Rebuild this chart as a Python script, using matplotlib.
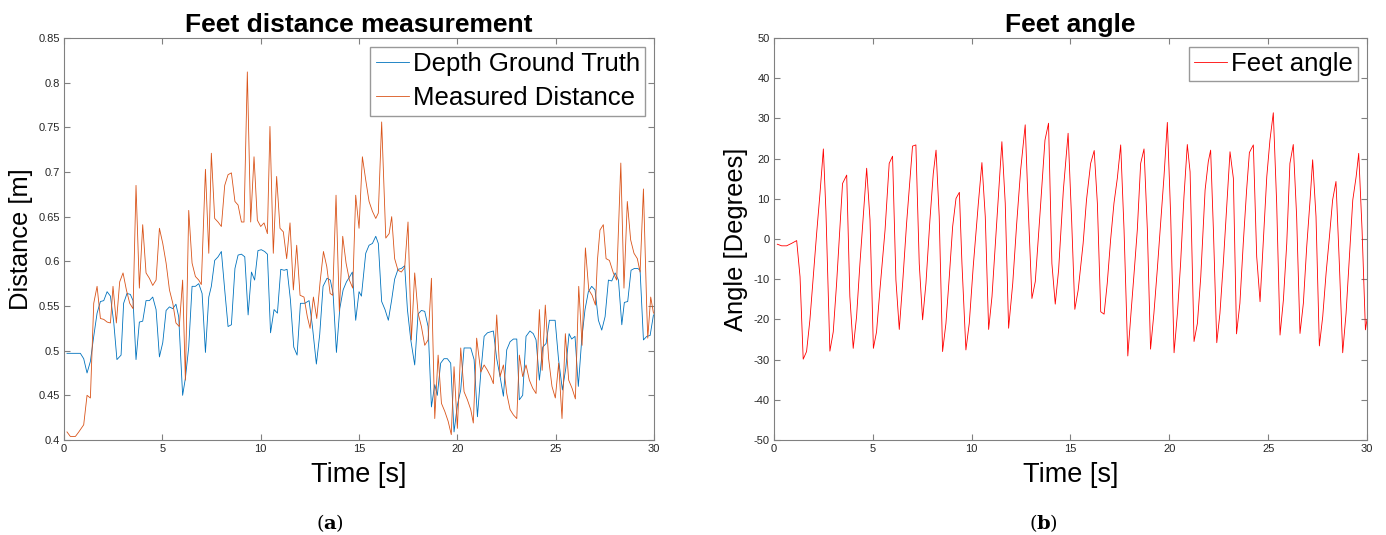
import matplotlib
matplotlib.use('Agg')
import matplotlib.pyplot as plt
from matplotlib.ticker import FuncFormatter

plt.rcParams['font.family'] = ['Liberation Sans', 'DejaVu Sans']

# depth ground truth (blue)
t_gt = [0.15, 0.83, 1.0, 1.17, 1.34, 1.51, 1.68, 1.85, 2.02, 2.19, 2.36, 2.53, 2.69, 2.9, 3.03, 3.2, 3.37, 3.51,
        3.66, 3.83, 4.0, 4.17, 4.34, 4.51, 4.68, 4.85, 5.02, 5.19, 5.36, 5.53, 5.69, 5.83, 6.03, 6.17, 6.34, 6.51,
        6.68, 6.85, 7.02, 7.19, 7.36, 7.49, 7.66, 7.83, 8.0, 8.17, 8.34, 8.51, 8.69, 8.85, 9.02, 9.19, 9.36, 9.53,
        9.69, 9.86, 10.03, 10.2, 10.34, 10.5, 10.68, 10.85, 11.02, 11.19, 11.34, 11.51, 11.68, 11.85, 12.02, 12.24,
        12.46, 12.63, 12.83, 13.0, 13.17, 13.37, 13.54, 13.68, 13.85, 14.02, 14.19, 14.36, 14.53, 14.66, 14.83,
        15.0, 15.12, 15.34, 15.51, 15.68, 15.85, 15.98, 16.15, 16.32, 16.49, 16.66, 16.81, 16.98, 17.15, 17.32,
        17.46, 17.63, 17.83, 18.0, 18.17, 18.34, 18.51, 18.68, 18.85, 18.98, 19.15, 19.32, 19.49, 19.66, 19.83,
        20.0, 20.17, 20.34, 20.51, 20.68, 20.85, 21.02, 21.19, 21.36, 21.53, 21.69, 21.83, 22.0, 22.17, 22.34,
        22.51, 22.68, 22.85, 23.02, 23.15, 23.32, 23.49, 23.69, 23.86, 24.0, 24.17, 24.34, 24.51, 24.68, 24.97,
        25.14, 25.34, 25.51, 25.68, 25.81, 25.98, 26.15, 26.32, 26.49, 26.66, 26.83, 27.0, 27.17, 27.34, 27.51,
        27.68, 27.85, 28.02, 28.19, 28.36, 28.49, 28.66, 28.83, 29.0, 29.17, 29.29, 29.46, 29.63, 29.8, 29.97]
d_gt = [0.497, 0.497, 0.491, 0.475, 0.488, 0.516, 0.542, 0.555, 0.556, 0.566, 0.561, 0.531, 0.490, 0.495, 0.553,
        0.564, 0.563, 0.556, 0.490, 0.532, 0.533, 0.556, 0.556, 0.560, 0.546, 0.493, 0.509, 0.545, 0.549, 0.547,
        0.552, 0.538, 0.450, 0.469, 0.504, 0.572, 0.572, 0.575, 0.564, 0.498, 0.560, 0.572, 0.601, 0.605, 0.611,
        0.568, 0.527, 0.529, 0.592, 0.607, 0.608, 0.605, 0.540, 0.588, 0.579, 0.612, 0.613, 0.611, 0.608, 0.520,
        0.546, 0.542, 0.591, 0.590, 0.591, 0.557, 0.504, 0.495, 0.553, 0.553, 0.556, 0.527, 0.485, 0.518, 0.572,
        0.581, 0.579, 0.564, 0.498, 0.547, 0.568, 0.577, 0.583, 0.588, 0.534, 0.566, 0.561, 0.609, 0.618, 0.620,
        0.628, 0.620, 0.555, 0.546, 0.534, 0.557, 0.580, 0.591, 0.592, 0.595, 0.546, 0.512, 0.484, 0.541, 0.545,
        0.544, 0.527, 0.437, 0.462, 0.450, 0.486, 0.491, 0.491, 0.486, 0.409, 0.439, 0.456, 0.503, 0.503, 0.503,
        0.490, 0.426, 0.475, 0.516, 0.520, 0.521, 0.522, 0.491, 0.471, 0.449, 0.501, 0.510, 0.513, 0.513, 0.445,
        0.450, 0.516, 0.522, 0.519, 0.512, 0.467, 0.504, 0.508, 0.534, 0.534, 0.491, 0.456, 0.480, 0.519, 0.513,
        0.516, 0.460, 0.512, 0.546, 0.566, 0.572, 0.568, 0.534, 0.523, 0.538, 0.579, 0.578, 0.587, 0.579, 0.529,
        0.554, 0.555, 0.590, 0.592, 0.592, 0.590, 0.512, 0.516, 0.517, 0.540]

# measured distance (orange)
t_ms = [0.15, 0.32, 0.58, 0.75, 1.0, 1.17, 1.34, 1.51, 1.68, 1.85, 2.02, 2.19, 2.36, 2.49, 2.66, 2.83, 3.0, 3.17,
        3.34, 3.51, 3.66, 3.83, 4.0, 4.17, 4.34, 4.51, 4.68, 4.85, 5.02, 5.19, 5.36, 5.53, 5.69, 5.86, 6.03, 6.17,
        6.34, 6.51, 6.68, 6.85, 6.98, 7.19, 7.36, 7.49, 7.66, 7.83, 8.0, 8.17, 8.34, 8.51, 8.69, 8.85, 9.02, 9.15,
        9.32, 9.49, 9.66, 9.83, 10.0, 10.17, 10.34, 10.47, 10.64, 10.81, 10.98, 11.15, 11.32, 11.49, 11.66, 11.83,
        12.0, 12.2, 12.37, 12.51, 12.68, 12.85, 13.02, 13.19, 13.36, 13.53, 13.66, 13.83, 14.0, 14.17, 14.34,
        14.51, 14.68, 14.83, 15.0, 15.17, 15.34, 15.51, 15.68, 15.85, 15.98, 16.15, 16.36, 16.53, 16.66, 16.81,
        16.98, 17.15, 17.32, 17.49, 17.66, 17.83, 18.0, 18.17, 18.34, 18.51, 18.68, 18.85, 19.02, 19.19, 19.36,
        19.53, 19.69, 19.83, 20.0, 20.17, 20.34, 20.51, 20.68, 20.81, 20.98, 21.19, 21.36, 21.53, 21.69, 21.83,
        22.0, 22.17, 22.34, 22.51, 22.68, 22.85, 23.02, 23.15, 23.32, 23.49, 23.66, 23.83, 24.0, 24.17, 24.31,
        24.47, 24.64, 24.81, 24.98, 25.15, 25.32, 25.49, 25.66, 25.83, 26.0, 26.17, 26.34, 26.51, 26.68, 26.85,
        27.02, 27.12, 27.25, 27.42, 27.56, 27.73, 27.93, 28.1, 28.31, 28.47, 28.64, 28.81, 28.98, 29.15, 29.29,
        29.46, 29.63, 29.68, 29.83, 29.97]
d_ms = [0.409, 0.404, 0.404, 0.409, 0.417, 0.450, 0.447, 0.553, 0.572, 0.536, 0.535, 0.532, 0.531, 0.572, 0.531,
        0.577, 0.587, 0.568, 0.553, 0.547, 0.685, 0.570, 0.641, 0.587, 0.581, 0.573, 0.579, 0.637, 0.620, 0.598,
        0.568, 0.553, 0.531, 0.527, 0.579, 0.467, 0.657, 0.598, 0.583, 0.579, 0.574, 0.703, 0.609, 0.721, 0.648,
        0.644, 0.639, 0.685, 0.697, 0.699, 0.667, 0.663, 0.644, 0.644, 0.812, 0.644, 0.717, 0.646, 0.639, 0.643,
        0.631, 0.751, 0.609, 0.695, 0.637, 0.633, 0.603, 0.643, 0.568, 0.618, 0.562, 0.560, 0.538, 0.525, 0.560,
        0.536, 0.577, 0.611, 0.594, 0.564, 0.562, 0.674, 0.544, 0.628, 0.598, 0.579, 0.570, 0.674, 0.637, 0.717,
        0.691, 0.667, 0.656, 0.648, 0.654, 0.756, 0.626, 0.631, 0.650, 0.603, 0.590, 0.588, 0.593, 0.644, 0.512,
        0.587, 0.542, 0.527, 0.506, 0.512, 0.581, 0.424, 0.495, 0.441, 0.432, 0.421, 0.406, 0.482, 0.413, 0.503,
        0.454, 0.445, 0.434, 0.419, 0.514, 0.476, 0.484, 0.478, 0.471, 0.463, 0.540, 0.471, 0.484, 0.452, 0.434,
        0.428, 0.424, 0.495, 0.471, 0.484, 0.467, 0.458, 0.452, 0.546, 0.478, 0.551, 0.491, 0.460, 0.447, 0.486,
        0.424, 0.519, 0.467, 0.458, 0.446, 0.572, 0.506, 0.615, 0.568, 0.562, 0.551, 0.601, 0.635, 0.641, 0.603,
        0.601, 0.587, 0.579, 0.710, 0.570, 0.667, 0.624, 0.609, 0.603, 0.588, 0.681, 0.546, 0.514, 0.560, 0.542]

# feet angle (red)
t_ang = [0.17, 0.39, 0.64, 0.89, 1.15, 1.32, 1.48, 1.65, 1.82, 1.99, 2.16, 2.33, 2.50, 2.63, 2.83, 3.0, 3.17, 3.34,
         3.47, 3.68, 3.84, 4.01, 4.18, 4.35, 4.52, 4.69, 4.86, 5.03, 5.19, 5.36, 5.62, 5.83, 6.0, 6.17, 6.34, 6.51,
         6.71, 6.88, 7.01, 7.18, 7.35, 7.52, 7.69, 7.89, 8.06, 8.20, 8.36, 8.53, 8.70, 8.87, 9.04, 9.21, 9.38, 9.51,
         9.71, 9.88, 10.08, 10.34, 10.52, 10.69, 10.86, 11.03, 11.2, 11.37, 11.53, 11.7, 11.87, 12.08, 12.28, 12.48,
         12.71, 12.88, 13.05, 13.22, 13.46, 13.71, 13.89, 14.06, 14.23, 14.4, 14.64, 14.88, 15.06, 15.22, 15.39,
         15.64, 15.81, 16.02, 16.2, 16.36, 16.53, 16.7, 16.86, 17.03, 17.2, 17.37, 17.54, 17.71, 17.9, 18.06, 18.23,
         18.38, 18.55, 18.72, 18.89, 19.05, 19.22, 19.39, 19.56, 19.73, 19.9, 20.07, 20.24, 20.41, 20.57, 20.74,
         20.91, 21.05, 21.25, 21.42, 21.59, 21.81, 21.97, 22.09, 22.23, 22.4, 22.56, 22.73, 22.9, 23.07, 23.24,
         23.4, 23.57, 23.74, 23.91, 24.05, 24.25, 24.42, 24.59, 24.76, 24.93, 25.09, 25.26, 25.43, 25.6, 25.77,
         25.94, 26.1, 26.27, 26.44, 26.61, 26.78, 26.95, 27.12, 27.25, 27.42, 27.59, 27.76, 27.93, 28.1, 28.26,
         28.43, 28.6, 28.77, 28.94, 29.11, 29.28, 29.45, 29.58, 29.75, 29.92, 30.0]
ang = [-1.3, -1.7, -1.7, -1.1, -0.4, -9.4, -29.9, -28.0, -20.1, -9.4, 1.4, 11.4, 22.4, 6.8, -27.9, -23.1, -11.0,
       3.1, 13.8, 15.9, -14.3, -27.2, -19.3, -6.1, 5.6, 17.6, 4.7, -27.2, -23.1, -12.7, 2.2, 18.8, 20.6, -10.2,
       -22.5, -11.0, 3.9, 14.7, 23.1, 23.4, -6.1, -20.1, -11.0, 4.7, 16.3, 22.1, 5.6, -28.0, -21.0, -9.4, 3.1,
       10.1, 11.6, -6.1, -27.6, -21.0, -6.9, 8.9, 19.0, 5.6, -22.5, -14.3, -1.1, 12.2, 24.2, 8.9, -22.2, -11.0,
       3.9, 17.2, 28.4, 5.6, -14.8, -10.6, 6.4, 24.6, 28.8, -6.1, -16.2, -7.7, 12.2, 26.3, 4.5, -17.5, -12.7,
       -1.1, 9.7, 18.8, 22.0, 8.9, -18.1, -18.7, -11.0, -0.2, 8.9, 15.1, 23.4, 2.2, -29.1, -18.5, -7.7, 2.2,
       18.8, 22.4, 2.2, -27.4, -18.5, -7.7, 3.9, 15.5, 29.0, 5.6, -28.3, -18.5, -6.1, 10.5, 23.5, 16.7, -25.5,
       -21.0, -9.4, 12.2, 19.2, 22.1, 2.2, -25.8, -18.5, -6.1, 8.0, 21.7, 15.1, -23.6, -16.0, -1.1, 12.2, 21.5,
       23.4, -4.4, -15.6, -0.2, 15.5, 24.6, 31.4, 8.9, -23.9, -15.2, -1.1, 18.8, 23.5, 5.6, -23.5, -16.0, -1.9,
       9.7, 19.7, 5.6, -26.6, -19.3, -8.5, 0.6, 9.7, 14.3, -6.1, -28.3, -18.5, -4.4, 9.7, 15.5, 21.3, 2.2,
       -22.6, -20.0]

spine_col = '#808080'
tick_col = '#262626'

fig = plt.figure(figsize=(13.86, 5.35), dpi=100)
ax1 = fig.add_axes([0.0462, 0.1776, 0.4257, 0.7514])
ax2 = fig.add_axes([0.5584, 0.1776, 0.4279, 0.7514])

leg_kw = dict(loc='upper right', fontsize=18.5, fancybox=False, edgecolor=spine_col,
              handlelength=1.3, borderpad=0.2, labelspacing=0.4, handletextpad=0.15, borderaxespad=0.35)

ax1.plot(t_gt, d_gt, color='#0072BD', lw=0.6, label='Depth Ground Truth')
ax1.plot(t_ms, d_ms, color='#D95319', lw=0.6, label='Measured Distance')
ax1.set_xlim(0, 30)
ax1.set_ylim(0.4, 0.85)
ax1.set_yticks([0.4, 0.45, 0.5, 0.55, 0.6, 0.65, 0.7, 0.75, 0.8, 0.85])
ax1.set_title('Feet distance measurement', fontsize=19, fontweight='bold', pad=4)
ax1.set_ylabel('Distance [m]', fontsize=18.4)
ax1.legend(**leg_kw)

ax2.plot(t_ang, ang, color='#FF0000', lw=0.6, label='Feet angle')
ax2.set_xlim(0, 30)
ax2.set_ylim(-50, 50)
ax2.set_yticks(range(-50, 51, 10))
ax2.set_title('Feet angle', fontsize=19, fontweight='bold', pad=4)
ax2.set_ylabel('Angle [Degrees]', fontsize=18.4)
ax2.legend(**leg_kw)

for ax in (ax1, ax2):
    ax.set_xticks(range(0, 31, 5))
    ax.set_xlabel('Time [s]', fontsize=19.5, labelpad=6)
    ax.yaxis.set_major_formatter(FuncFormatter(lambda v, p: '%g' % round(v, 3)))
    ax.tick_params(direction='in', top=True, right=True, labelsize=8, length=4,
                   color=spine_col, labelcolor=tick_col, pad=3)
    for s in ax.spines.values():
        s.set_color(spine_col)
        s.set_linewidth(0.8)

# sub-figure captions
for cx, letter in ((0.238, 'a'), (0.753, 'b')):
    fig.text(cx - 0.0045, 0.012, '(', fontsize=14, family='DejaVu Serif', ha='right')
    fig.text(cx, 0.012, letter, fontsize=14, family='DejaVu Serif', fontweight='bold', ha='center')
    fig.text(cx + 0.0045, 0.012, ')', fontsize=14, family='DejaVu Serif', ha='left')

fig.savefig('out.png', dpi=100)
